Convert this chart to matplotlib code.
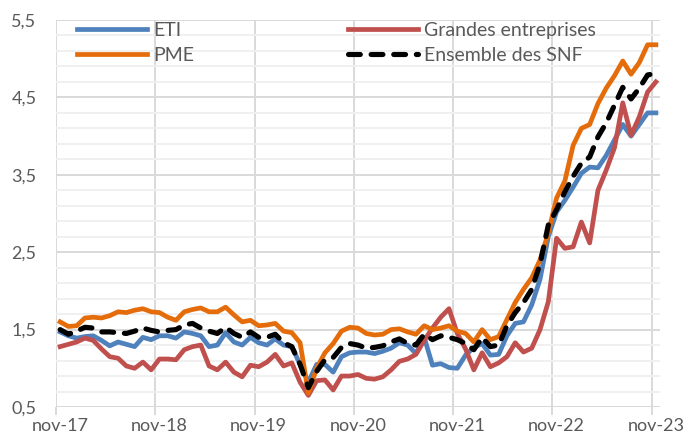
import numpy as np
import matplotlib.pyplot as plt
from matplotlib.ticker import FixedLocator, FuncFormatter

plt.rcParams['font.family'] = ['Lato', 'DejaVu Sans']

# monthly values, nov-17 .. nov-23 (73 months)
eti = [1.47, 1.42, 1.39, 1.41, 1.42, 1.36, 1.29, 1.34, 1.31, 1.28, 1.40, 1.37,
       1.42, 1.42, 1.39, 1.47, 1.45, 1.42, 1.28, 1.30, 1.46, 1.34, 1.30, 1.40,
       1.33, 1.30, 1.38, 1.30, 1.28, 1.05, 0.82, 1.05, 1.05, 0.95, 1.15, 1.20,
       1.21, 1.21, 1.19, 1.22, 1.26, 1.33, 1.30, 1.19, 1.40, 1.04, 1.06, 1.01,
       1.00, 1.17, 1.27, 1.32, 1.17, 1.18, 1.42, 1.58, 1.60, 1.82, 2.15, 2.70,
       3.02, 3.17, 3.34, 3.52, 3.60, 3.59, 3.75, 3.95, 4.15, 4.00, 4.15, 4.30,
       4.30]
grandes = [1.28, 1.31, 1.34, 1.39, 1.36, 1.25, 1.15, 1.13, 1.03, 1.00, 1.08, 0.98,
           1.12, 1.12, 1.11, 1.24, 1.28, 1.30, 1.03, 0.98, 1.08, 0.95, 0.89, 1.04,
           1.02, 1.08, 1.18, 1.03, 1.07, 0.82, 0.65, 0.84, 0.85, 0.72, 0.90, 0.90,
           0.92, 0.87, 0.86, 0.89, 0.98, 1.09, 1.12, 1.18, 1.36, 1.52, 1.66, 1.77,
           1.45, 1.25, 0.98, 1.20, 1.02, 1.07, 1.15, 1.33, 1.21, 1.26, 1.50, 1.86,
           2.68, 2.55, 2.57, 2.89, 2.62, 3.30, 3.56, 3.85, 4.43, 4.01, 4.25, 4.57,
           4.70]
pme = [1.60, 1.54, 1.55, 1.65, 1.66, 1.65, 1.68, 1.73, 1.72, 1.75, 1.77, 1.73,
       1.72, 1.66, 1.62, 1.73, 1.76, 1.78, 1.73, 1.73, 1.79, 1.69, 1.60, 1.62,
       1.55, 1.56, 1.58, 1.48, 1.46, 1.33, 0.68, 1.00, 1.20, 1.32, 1.48, 1.53,
       1.52, 1.45, 1.43, 1.44, 1.50, 1.51, 1.47, 1.44, 1.55, 1.50, 1.52, 1.55,
       1.48, 1.45, 1.34, 1.50, 1.37, 1.41, 1.63, 1.85, 2.02, 2.17, 2.40, 2.75,
       3.20, 3.42, 3.88, 4.10, 4.15, 4.42, 4.62, 4.78, 4.97, 4.80, 4.95, 5.18,
       5.18]
snf = [1.50, 1.44, 1.48, 1.53, 1.52, 1.47, 1.47, 1.46, 1.45, 1.48, 1.52, 1.49,
       1.47, 1.49, 1.50, 1.56, 1.58, 1.52, 1.48, 1.45, 1.53, 1.45, 1.40, 1.47,
       1.40, 1.40, 1.44, 1.33, 1.28, 1.05, 0.75, 0.96, 1.11, 1.14, 1.27, 1.32,
       1.30, 1.26, 1.27, 1.29, 1.34, 1.38, 1.32, 1.30, 1.44, 1.37, 1.42, 1.40,
       1.37, 1.32, 1.24, 1.40, 1.28, 1.30, 1.55, 1.72, 1.85, 2.02, 2.35, 2.85,
       3.05, 3.28, 3.48, 3.65, 3.73, 3.99, 4.17, 4.40, 4.63, 4.48, 4.62, 4.79,
       4.81]
tick_labels = ['nov-17', 'nov-18', 'nov-19', 'nov-20', 'nov-21', 'nov-22', 'nov-23']

x = np.arange(len(eti))
grey_txt = '#595959'

fig = plt.figure(figsize=(6.83, 4.41), dpi=100)
ax = fig.add_axes([56 / 683, 1 - 407 / 441, 604 / 683, 387 / 441])

lw = 3.4
l_eti, = ax.plot(x, eti, color='#4F81BD', lw=lw, solid_joinstyle='round')
l_ge, = ax.plot(x, grandes, color='#C0504D', lw=lw, solid_joinstyle='round')
l_pme, = ax.plot(x, pme, color='#E46C0A', lw=lw, solid_joinstyle='round')
l_snf, = ax.plot(x, snf, color='black', lw=3.7, dashes=(2.3, 2.1),
                 dash_capstyle='round', solid_joinstyle='round')

ax.set_xlim(-0.5, len(x) - 0.5)
ax.set_ylim(0.5, 5.5)

# y axis: major every 1, minor every 0.2
ax.yaxis.set_major_locator(FixedLocator(np.arange(0.5, 5.51, 1.0)))
ax.yaxis.set_minor_locator(FixedLocator(np.arange(0.5, 5.51, 0.2)))
ax.yaxis.set_major_formatter(FuncFormatter(lambda v, p: f'{v:.1f}'.replace('.', ',')))
ax.tick_params(axis='y', which='both', length=0, pad=14, labelsize=13, labelcolor=grey_txt)
ax.grid(axis='y', which='major', color='#d9d9d9', lw=1.4)
ax.grid(axis='y', which='minor', color='#f0f0f0', lw=1.4)

# x axis: labels at category centres, gridlines/ticks between categories
ax.xaxis.set_major_locator(FixedLocator(np.arange(0, len(x), 12)))
ax.xaxis.set_major_formatter(FuncFormatter(lambda v, p: tick_labels[int(round(v / 12))]))
ax.xaxis.set_minor_locator(FixedLocator(np.arange(-0.5, len(x), 12)))
ax.tick_params(axis='x', which='major', length=0, pad=8, labelsize=13, labelcolor=grey_txt)
ax.tick_params(axis='x', which='minor', length=6, width=1.4, color='#d9d9d9')
ax.grid(axis='x', which='minor', color='#d9d9d9', lw=1.4)
ax.grid(axis='x', which='major', visible=False)
ax.set_axisbelow(True)

for s in ax.spines.values():
    s.set_visible(False)

leg_kw = dict(frameon=False, fontsize=14, handlelength=3.6, handletextpad=0.3,
              labelspacing=0.4, borderpad=0, borderaxespad=0, labelcolor=grey_txt,
              loc='center left')
leg1 = ax.legend([l_eti, l_pme], ['ETI', 'PME'], bbox_to_anchor=(77 / 683, 1 - 43 / 441),
                 bbox_transform=fig.transFigure, **leg_kw)
ax.add_artist(leg1)
ax.legend([l_ge, l_snf], ['Grandes entreprises', 'Ensemble des SNF'],
          bbox_to_anchor=(348 / 683, 1 - 43 / 441), bbox_transform=fig.transFigure, **leg_kw)

fig.savefig('out.png', dpi=100)
